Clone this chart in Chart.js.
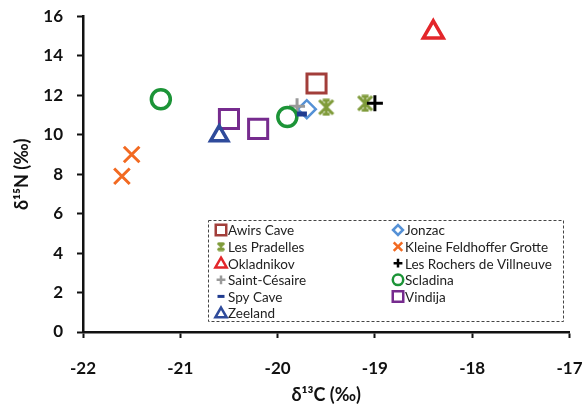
<!DOCTYPE html>
<html>
<head>
<meta charset="utf-8">
<script src="https://cdn.jsdelivr.net/npm/chart.js@4/dist/chart.umd.min.js"></script>
<style>
  body { margin: 0; background: #fff; }
  #wrap { position: relative; width: 586px; height: 410px; }
</style>
</head>
<body>
<div id="wrap"><canvas id="isoChart"></canvas></div>
<script>
// Site names, in legend order
const sites = ["Awirs Cave", "Jonzac", "Les Pradelles", "Kleine Feldhoffer Grotte", "Okladnikov",
               "Les Rochers de Villneuve", "Saint-Césaire", "Scladina", "Spy Cave", "Vindija", "Zeeland"];

// d13C values per site
const carbon = [
    [-19.6],
    [-19.7],
    [-19.5, -19.1],
    [-21.6, -21.5],
    [-18.4],
    [-19.0],
    [-19.8],
    [-21.2, -19.9],
    [-19.75],
    [-20.5, -20.2],
    [-20.6]
];

// d15N values per site
const nitrogen = [
    [12.6],
    [11.3],
    [11.4, 11.6],
    [7.9, 9.0],
    [15.2],
    [11.6],
    [11.45],
    [11.8, 10.9],
    [11.05],
    [10.8, 10.3],
    [9.95]
];

const xTicks = [-22, -21, -20, -19, -18, -17];
const yTicks = [0, 2, 4, 6, 8, 10, 12, 14, 16];

// Excel-like "star" marker: X + vertical bar with short caps
function starMarker(size, color, lw, cap) {
    const c = document.createElement("canvas");
    c.width = size; c.height = size;
    const g = c.getContext("2d");
    const p = lw / 2 + 0.5, q = size - p, m = size / 2;
    g.strokeStyle = color;
    g.lineWidth = lw;
    g.lineCap = "butt";
    g.beginPath();
    g.moveTo(p, p); g.lineTo(q, q);
    g.moveTo(q, p); g.lineTo(p, q);
    g.moveTo(m, p); g.lineTo(m, q);
    g.moveTo(m - cap, p); g.lineTo(m + cap, p);
    g.moveTo(m - cap, q); g.lineTo(m + cap, q);
    g.stroke();
    return c;
}

// marker look for each site
const markers = [
    { style: "rect",     color: "#A23E3A", r: 13.5, w: 3 },
    { style: "rectRot",  color: "#5591D6", r: 9,    w: 2.5 },
    { style: "star",     color: "#7F9B3A", r: 9,    w: 3 },
    { style: "crossRot", color: "#F26A22", r: 11,   w: 3 },
    { style: "triangle", color: "#E3262A", r: 11.5, w: 3.5 },
    { style: "cross",    color: "#000000", r: 8,    w: 3 },
    { style: "cross",    color: "#9A9A9A", r: 8,    w: 3 },
    { style: "circle",   color: "#1C9437", r: 9.5,  w: 3.5 },
    { style: "line",     color: "#1F3B8F", r: 5,    w: 5 },
    { style: "rect",     color: "#762B8E", r: 13.5, w: 3 },
    { style: "triangle", color: "#2F4B9B", r: 10,   w: 3.5 }
];

const bigStar = starMarker(18, markers[2].color, 3, 3.5);
const smallStar = starMarker(10, markers[2].color, 2, 2.5);

const datasets = sites.map(function(name, i) {
    const mk = markers[i];
    return {
        label: name,
        data: carbon[i].map(function(c, j) { return { x: c, y: nitrogen[i][j] }; }),
        pointStyle: mk.style === "star" ? bigStar : mk.style,
        pointRadius: mk.r,
        pointHoverRadius: mk.r,
        pointBorderWidth: mk.w,
        pointBorderColor: mk.color,
        pointBackgroundColor: "rgba(0,0,0,0)",
        borderColor: mk.color,
        order: sites.length - i // later series on top, like the original
    };
});

// legend drawn inside the plot with a dashed frame, two columns
const boxLegend = {
    id: "boxLegend",
    afterDraw: function(chart) {
        const ctx = chart.ctx;
        const left = 208, top = 220, right = 563, bottom = 321;
        ctx.save();
        ctx.setLineDash([3, 2]);
        ctx.strokeStyle = "#444";
        ctx.lineWidth = 1;
        ctx.strokeRect(left + 0.5, top + 0.5, right - left, bottom - top);
        ctx.setLineDash([]);
        ctx.font = "13.5px Lato";
        ctx.textBaseline = "middle";
        chart.data.datasets.forEach(function(ds, i) {
            const col = i % 2, row = Math.floor(i / 2);
            const mx = col === 0 ? 221 : 398;
            const my = 230 + row * 16.6;
            const st = markers[i].style;
            if (st === "star") {
                ctx.drawImage(smallStar, mx - 5, my - 5);
            } else {
                ctx.strokeStyle = ds.pointBorderColor;
                ctx.fillStyle = "rgba(0,0,0,0)";
                ctx.lineWidth = st === "line" ? 3 : 2.5;
                let r = ds.pointRadius * 0.55;
                if (st === "line") r = 3.5;
                if (st === "triangle") r = 6.5;
                Chart.helpers.drawPoint(ctx, {
                    pointStyle: st,
                    radius: r,
                    rotation: 0,
                    borderWidth: ctx.lineWidth
                }, mx, my + (st === "triangle" ? 1 : 0));
            }
            ctx.fillStyle = "#222";
            ctx.fillText(ds.label, mx + 7, my + 1);
        });
        ctx.restore();
    }
};

new Chart("isoChart", {
    type: "scatter",
    data: { datasets: datasets },
    plugins: [boxLegend],
    options: {
        animation: false,
        responsive: true,
        maintainAspectRatio: false,
        layout: { padding: { top: 15, right: 16, bottom: 0, left: 0 } },
        plugins: {
            legend: { display: false },
            tooltip: { enabled: false }
        },
        scales: {
            x: {
                min: -22,
                max: -17,
                afterFit: function(scale) {
                    scale.height = 78;
                    scale.paddingLeft = 0;
                    scale.paddingRight = 0;
                },
                ticks: {
                    stepSize: 0.5,
                    autoSkip: false,
                    maxRotation: 0,
                    padding: 20,
                    color: "#111",
                    font: { family: "Lato", size: 17, weight: "bold" },
                    callback: function(v) { return xTicks.includes(v) ? String(v) : null; }
                },
                grid: { drawOnChartArea: false, tickLength: 6, tickWidth: 2, tickColor: "#111" },
                border: { color: "#111", width: 2.5 },
                title: {
                    display: true,
                    text: "δ¹³C (‰)",
                    color: "#111",
                    font: { family: "Lato", size: 18, weight: "bold" },
                    padding: { top: 0, bottom: 4 }
                }
            },
            y: {
                min: 0,
                max: 16,
                afterFit: function(scale) {
                    scale.width = 83;
                    scale.paddingTop = 0;
                    scale.paddingBottom = 0;
                },
                ticks: {
                    stepSize: 1,
                    autoSkip: false,
                    padding: 14,
                    color: "#111",
                    font: { family: "Lato", size: 17, weight: "bold" },
                    callback: function(v) { return yTicks.includes(v) ? String(v) : null; }
                },
                grid: { drawOnChartArea: false, tickLength: 6, tickWidth: 2, tickColor: "#111" },
                border: { color: "#111", width: 2.5 },
                title: {
                    display: true,
                    text: "δ¹⁵N (‰)",
                    color: "#111",
                    font: { family: "Lato", size: 18, weight: "bold" },
                    padding: { top: 11, bottom: 0 }
                }
            }
        }
    }
});
</script>
</body>
</html>
